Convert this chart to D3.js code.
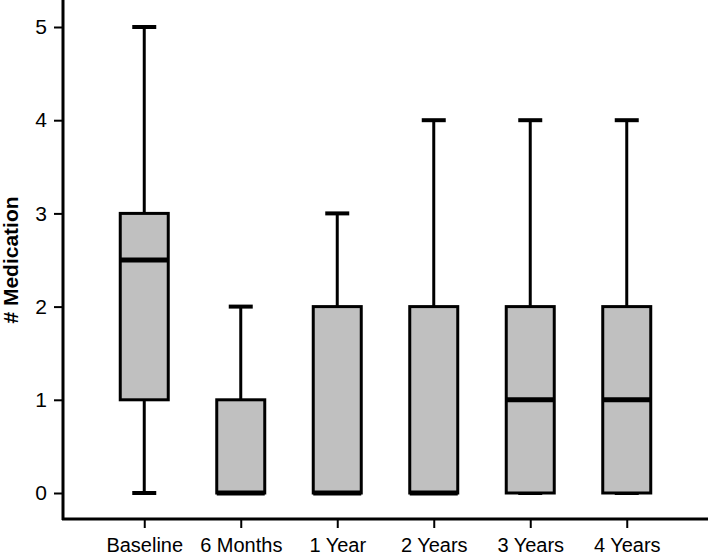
<!DOCTYPE html>
<html><head><meta charset="utf-8">
<script src="https://cdn.jsdelivr.net/npm/d3@7"></script>
<style>body{margin:0;background:#fff}svg{display:block}text{font-family:"Liberation Sans",Arial,sans-serif}</style>
</head><body>
<svg id="c" width="709" height="556"></svg>
<script>
const categories = ["Baseline","6 Months","1 Year","2 Years","3 Years","4 Years"];
const mins    = [0, 0, 0, 0, 0, 0];
const q1s     = [1, 0, 0, 0, 0, 0];
const medians = [2.5, 0, 0, 0, 1, 1];
const q3s     = [3, 1, 2, 2, 2, 2];
const maxs    = [5, 2, 3, 4, 4, 4];
const yTicks  = [0, 1, 2, 3, 4, 5];

const svg = d3.select("#c");
const x = d3.scalePoint().domain(categories).range([63, 708]).padding(0.842);
const y = d3.scaleLinear().domain([0, 5]).range([493, 27]);
const boxW = 48, capW = 24;
const data = categories.map((c,i)=>({c,min:mins[i],q1:q1s[i],med:medians[i],q3:q3s[i],max:maxs[i]}));

// axes
svg.append("line").attr("x1",63).attr("x2",63).attr("y1",0).attr("y2",520).attr("stroke","#000").attr("stroke-width",3);
svg.append("line").attr("x1",62).attr("x2",708).attr("y1",519).attr("y2",519).attr("stroke","#000").attr("stroke-width",3);
const yAxis = svg.append("g").attr("transform","translate(63,0)")
  .call(d3.axisLeft(y).tickValues(yTicks).tickFormat(d3.format("d")).tickSize(9).tickPadding(7));
yAxis.select(".domain").remove();
yAxis.selectAll(".tick line").attr("stroke","#000").attr("stroke-width",2);
yAxis.selectAll(".tick text").attr("font-size",21).attr("fill","#000").attr("font-family","Liberation Sans, Arial, sans-serif");
const xAxis = svg.append("g").attr("transform","translate(0,519)")
  .call(d3.axisBottom(x).tickSize(9).tickPadding(10));
xAxis.select(".domain").remove();
xAxis.selectAll(".tick line").attr("stroke","#000").attr("stroke-width",2);
xAxis.selectAll(".tick text").attr("font-size",20).attr("fill","#000").attr("font-family","Liberation Sans, Arial, sans-serif");

svg.append("text").attr("transform","translate(18,260) rotate(-90)").attr("text-anchor","middle")
  .attr("font-size",21).attr("font-weight","bold").text("# Medication");

const g = svg.append("g");
const b = g.selectAll("g.box").data(data).join("g");
// whiskers
b.append("line").attr("x1",d=>x(d.c)).attr("x2",d=>x(d.c)).attr("y1",d=>y(d.q3)).attr("y2",d=>y(d.max)).attr("stroke","#000").attr("stroke-width",3);
b.append("line").attr("x1",d=>x(d.c)).attr("x2",d=>x(d.c)).attr("y1",d=>y(d.q1)).attr("y2",d=>y(d.min)).attr("stroke","#000").attr("stroke-width",3);
b.append("line").attr("x1",d=>x(d.c)-capW/2).attr("x2",d=>x(d.c)+capW/2).attr("y1",d=>y(d.max)).attr("y2",d=>y(d.max)).attr("stroke","#000").attr("stroke-width",4);
b.append("line").attr("x1",d=>x(d.c)-capW/2).attr("x2",d=>x(d.c)+capW/2).attr("y1",d=>y(d.min)).attr("y2",d=>y(d.min)).attr("stroke","#000").attr("stroke-width",4);
// box
b.append("rect").attr("x",d=>x(d.c)-boxW/2).attr("width",boxW).attr("y",d=>y(d.q3)).attr("height",d=>y(d.q1)-y(d.q3))
  .attr("fill","#c0c0c0").attr("stroke","#000").attr("stroke-width",3);
// median
b.append("line").attr("x1",d=>x(d.c)-boxW/2).attr("x2",d=>x(d.c)+boxW/2).attr("y1",d=>y(d.med)).attr("y2",d=>y(d.med)).attr("stroke","#000").attr("stroke-width",5);
</script>
</body></html>
